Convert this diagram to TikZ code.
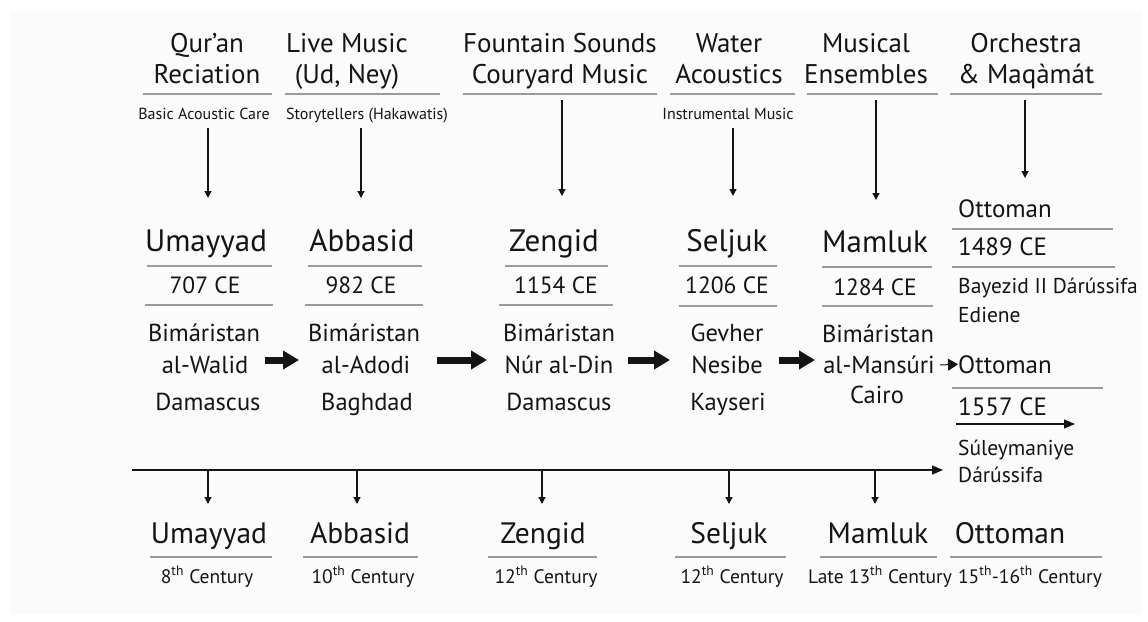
\documentclass[tikz,border=0pt]{standalone}
\usepackage{fontspec}
\setmainfont{PT Sans}
\usetikzlibrary{arrows.meta}
\definecolor{ink}{HTML}{141414}
\definecolor{rule}{HTML}{9A9A9A}
\definecolor{bgpale}{HTML}{FBFBFB}
\newcommand{\fs}[2]{\fontsize{#1}{#2}\selectfont}
\newcommand{\thsup}{\textsuperscript{th}}
\begin{document}
\begin{tikzpicture}[x=1pt,y=-1pt,
  txt/.style={text=ink,inner sep=0pt,anchor=base},
  lft/.style={text=ink,inner sep=0pt,anchor=base west},
  head/.style={txt,align=center,font=\fs{27}{31}},
  sub/.style={txt,font=\fs{16}{18}},
  dyn/.style={txt,font=\fs{31}{34}},
  yr/.style={txt,font=\fs{23.5}{26}},
  body/.style={txt,font=\fs{24.5}{28}},
  rhead/.style={lft,font=\fs{25}{28}},
  rbody/.style={lft,font=\fs{21.5}{26}},
  bdyn/.style={txt,font=\fs{29.5}{32}},
  cent/.style={txt,font=\fs{19.5}{22}},
  sep/.style={draw=rule,line width=1.5pt},
  thinarrow/.style={draw=ink,line width=1.2pt,-{Triangle[width=7pt,length=7pt]}},
  bigarrow/.style={draw=ink,line width=7pt,-{Triangle[width=18pt,length=16pt]}},
  tlarrow/.style={draw=ink,line width=1.3pt,-{Triangle[width=9pt,length=11pt]}},
  minarrow/.style={draw=ink,line width=1pt,-{Triangle[width=12pt,length=10pt]}}
]
\useasboundingbox (0,0) rectangle (1148,621);
\fill[bgpale] (10,11) rectangle (1142,614);

% ---------- top headers (anchor at baseline of last line) ----------
\node[head] (h1) at (207,83) {Qur’an\\Reciation};
\node[head] (h2) at (347,83) {Live Music\\(Ud, Ney)};
\node[head] (h3) at (560,83) {Fountain Sounds\\Couryard Music};
\node[head] (h4) at (729,83) {Water\\Acoustics};
\node[head] (h5) at (866,83) {Musical\\Ensembles};
\node[head] (h6) at (1026,83) {Orchestra\\\& Maqàmát};
\draw[sep] (143,94) -- (272,94);
\draw[sep] (285,94) -- (440,94);
\draw[sep] (463,94) -- (657,94);
\draw[sep] (670,94) -- (795,94);
\draw[sep] (807,94) -- (938,94);
\draw[sep] (950,94) -- (1102,94);
\node[sub] (s1) at (204,119) {Basic Acoustic Care};
\node[sub] (s2) at (367,119) {Storytellers (Hakawatis)};
\node[sub] (s4) at (728,119) {Instrumental Music};

% ---------- top arrows ----------
\coordinate (a1s) at (208,128); \coordinate (a1e) at (208,198);
\coordinate (a2s) at (361,128); \coordinate (a2e) at (361,198);
\coordinate (a3s) at (562,100); \coordinate (a3e) at (562,196);
\coordinate (a4s) at (733,128); \coordinate (a4e) at (733,196);
\coordinate (a5s) at (876,100); \coordinate (a5e) at (876,200);
\coordinate (a6s) at (1025,100); \coordinate (a6e) at (1025,178);
\foreach \i in {1,...,6} \draw[thinarrow] (a\i s) -- (a\i e);

% ---------- middle columns ----------
% Umayyad
\node[dyn] (m1n) at (206,251) {Umayyad};
\draw[sep] (147,266) -- (272,266);
\node[yr] (m1y) at (205,293) {707 CE};
\draw[sep] (145,305) -- (273,305);
\node[body] (m1a) at (204,341) {Bimáristan};
\node[body] (m1b) at (205,373) {al-Walid};
\node[body] (m1c) at (208,410) {Damascus};
% Abbasid
\node[dyn] (m2n) at (362,251) {Abbasid};
\draw[sep] (308,266) -- (422,266);
\node[yr] (m2y) at (361,293) {982 CE};
\draw[sep] (305,305) -- (423,305);
\node[body] (m2a) at (364,341) {Bimáristan};
\node[body] (m2b) at (366,373) {al-Adodi};
\node[body] (m2c) at (367,410) {Baghdad};
% Zengid
\node[dyn] (m3n) at (554,251) {Zengid};
\draw[sep] (505,266) -- (608,266);
\node[yr] (m3y) at (556,293) {1154 CE};
\draw[sep] (499,305) -- (613,305);
\node[body] (m3a) at (559,341) {Bimáristan};
\node[body] (m3b) at (559,373) {Núr al-Din};
\node[body] (m3c) at (559,410) {Damascus};
% Seljuk
\node[dyn] (m4n) at (727,251) {Seljuk};
\draw[sep] (679,266) -- (777,266);
\node[yr] (m4y) at (727,293) {1206 CE};
\draw[sep] (679,306) -- (777,306);
\node[body] (m4a) at (727,341) {Gevher};
\node[body] (m4b) at (727,373) {Nesibe};
\node[body] (m4c) at (728,410) {Kayseri};
% Mamluk
\node[dyn] (m5n) at (875,252) {Mamluk};
\draw[sep] (822,267) -- (932,267);
\node[yr] (m5y) at (875,295) {1284 CE};
\draw[sep] (822,306) -- (933,306);
\node[body] (m5a) at (878,342) {Bimáristan};
\node[body] (m5b) at (879,373) {al-Mansúri};
\node[body] (m5c) at (877,403) {Cairo};
% Ottoman (right column)
\node[rhead] (o1) at (958,217) {Ottoman};
\draw[sep] (952,229) -- (1113,229);
\node[rhead] (o2) at (958,255) {1489 CE};
\draw[sep] (952,267) -- (1115,267);
\node[rbody] (o3) at (958,293) {Bayezid II Dárússifa};
\node[rbody] (o4) at (958,322) {Ediene};
\node[rhead] (o5) at (958,373) {Ottoman};
\draw[sep] (952,388) -- (1103,388);
\node[rhead] (o6) at (958,415) {1557 CE};
\node[rbody] (o7) at (958,455) {Súleymaniye};
\node[rbody] (o8) at (958,482) {Dárússifa};

% ---------- thick arrows between columns ----------
\coordinate (b1s) at (265,360); \coordinate (b1e) at (299,360);
\coordinate (b2s) at (437,360); \coordinate (b2e) at (487,360);
\coordinate (b3s) at (628,360); \coordinate (b3e) at (670,360);
\coordinate (b4s) at (779,360); \coordinate (b4e) at (815,360);
\foreach \i in {1,...,4} \draw[bigarrow] (b\i s) -- (b\i e);
\coordinate (mo) at (940,365);
\draw[minarrow] (mo) -- (o5.west);
\coordinate (p1) at (956,424); \coordinate (p2) at (1075,424);
\draw[tlarrow] (p1) -- (p2);

% ---------- timeline ----------
\coordinate (t0) at (132,470);
\coordinate (t1) at (943,470);
\draw[tlarrow] (t0) -- (t1);
\foreach \x/\n in {208/1,357/2,542/3,729/4,875/5}{
  \coordinate (d\n s) at (\x,470);
  \coordinate (d\n e) at (\x,504);
  \draw[thinarrow] (d\n s) -- (d\n e);
}

% ---------- bottom row ----------
\node[bdyn] (c1n) at (209,543) {Umayyad};
\draw[sep] (150,557) -- (272,557);
\node[cent] (c1c) at (207,583) {8\thsup{} Century};
\node[bdyn] (c2n) at (360,543) {Abbasid};
\draw[sep] (303,557) -- (418,557);
\node[cent] (c2c) at (363,583) {10\thsup{} Century};
\node[bdyn] (c3n) at (543,543) {Zengid};
\draw[sep] (488,557) -- (597,557);
\node[cent] (c3c) at (546,583) {12\thsup{} Century};
\node[bdyn] (c4n) at (729,543) {Seljuk};
\draw[sep] (675,557) -- (786,557);
\node[cent] (c4c) at (732,583) {12\thsup{} Century};
\node[bdyn] (c5n) at (878,543) {Mamluk};
\draw[sep] (820,557) -- (937,557);
\node[cent] (c5c) at (880,583) {Late 13\thsup{} Century};
\node[bdyn] (c6n) at (1010,543) {Ottoman};
\draw[sep] (950,557) -- (1102,557);
\node[cent] (c6c) at (1030,583) {15\thsup-16\thsup{} Century};
\end{tikzpicture}
\end{document}
